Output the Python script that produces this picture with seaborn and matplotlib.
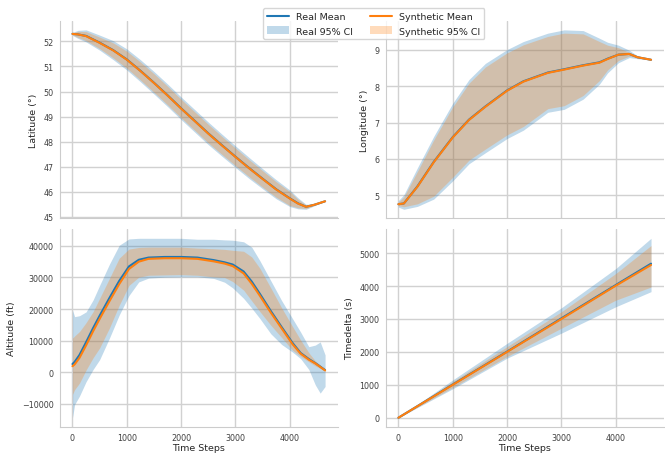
import matplotlib
matplotlib.use("Agg")
import matplotlib.pyplot as plt
from matplotlib.ticker import MultipleLocator
import seaborn as sns

# ---- latitude ----
lat_t = [0, 100, 250, 500, 750, 1000, 1250, 1500, 1750, 2000, 2250, 2500,
         2750, 3000, 3250, 3500, 3750, 4000, 4150, 4300, 4450, 4650]
lat_real_mean = [52.30, 52.28, 52.22, 51.95, 51.65, 51.28, 50.83, 50.35, 49.85, 49.33, 48.83,
                 48.33, 47.86, 47.40, 46.95, 46.52, 46.10, 45.74, 45.54, 45.40, 45.48, 45.62]
lat_real_lo = [52.24, 52.12, 51.98, 51.65, 51.27, 50.86, 50.39, 49.90, 49.40, 48.88, 48.38,
               47.88, 47.42, 46.97, 46.53, 46.12, 45.72, 45.41, 45.32, 45.30, 45.44, 45.62]
lat_real_hi = [52.36, 52.44, 52.46, 52.25, 52.03, 51.70, 51.27, 50.80, 50.30, 49.78, 49.28,
               48.78, 48.30, 47.83, 47.37, 46.92, 46.48, 46.07, 45.76, 45.50, 45.52, 45.62]
lat_syn_mean = [52.30, 52.28, 52.21, 51.94, 51.64, 51.27, 50.82, 50.34, 49.84, 49.32, 48.82,
                48.32, 47.85, 47.39, 46.94, 46.51, 46.09, 45.73, 45.53, 45.40, 45.48, 45.62]
lat_syn_lo = [52.26, 52.16, 52.03, 51.71, 51.34, 50.93, 50.46, 49.97, 49.47, 48.95, 48.45,
              47.95, 47.49, 47.04, 46.60, 46.18, 45.78, 45.45, 45.36, 45.33, 45.45, 45.62]
lat_syn_hi = [52.34, 52.40, 52.39, 52.17, 51.94, 51.61, 51.18, 50.71, 50.21, 49.69, 49.19,
              48.69, 48.21, 47.74, 47.28, 46.84, 46.40, 46.01, 45.70, 45.47, 45.51, 45.62]

# ---- longitude ----
lon_t = [0, 100, 350, 650, 1000, 1300, 1600, 2000, 2300, 2750, 3050, 3400,
         3700, 3850, 4050, 4250, 4400, 4650]
lon_real_mean = [4.76, 4.78, 5.25, 5.92, 6.60, 7.08, 7.44, 7.88, 8.13, 8.37, 8.46, 8.57,
                 8.65, 8.75, 8.86, 8.88, 8.79, 8.72]
lon_real_lo = [4.68, 4.62, 4.70, 4.90, 5.40, 5.87, 6.17, 6.56, 6.79, 7.28, 7.36, 7.64,
               8.05, 8.36, 8.64, 8.78, 8.75, 8.71]
lon_real_hi = [4.86, 5.02, 5.76, 6.62, 7.53, 8.18, 8.62, 9.00, 9.22, 9.45, 9.54, 9.52,
               9.31, 9.20, 9.12, 8.98, 8.83, 8.73]
lon_syn_mean = [4.76, 4.78, 5.24, 5.91, 6.59, 7.07, 7.43, 7.87, 8.12, 8.36, 8.45, 8.56,
                8.64, 8.74, 8.86, 8.88, 8.79, 8.72]
lon_syn_lo = [4.72, 4.69, 4.77, 4.98, 5.50, 5.97, 6.27, 6.66, 6.89, 7.38, 7.46, 7.74,
              8.15, 8.44, 8.70, 8.82, 8.77, 8.72]
lon_syn_hi = [4.82, 4.96, 5.66, 6.52, 7.43, 8.08, 8.52, 8.91, 9.13, 9.36, 9.45, 9.43,
              9.22, 9.12, 9.05, 8.92, 8.80, 8.72]

# ---- altitude ----
alt_t = [0, 40, 130, 250, 380, 500, 680, 860, 1040, 1220, 1400, 1700, 2000, 2300,
         2600, 2800, 2950, 3150, 3300, 3450, 3650, 3850, 4050, 4200, 4350, 4470, 4560, 4650]
alt_real_mean = [2600, 3300, 5500, 9500, 14000, 17900, 23500, 28900, 33500, 35600, 36300,
                 36500, 36500, 36300, 35500, 34800, 34100, 31900, 28700, 24800, 19400,
                 14300, 9300, 6100, 4200, 2900, 1800, 700]
alt_real_lo = [-14400, -10200, -7500, -3000, 900, 4000, 10800, 18100, 24300, 28600, 29800,
               30100, 30200, 30200, 29700, 28500, 26700, 23400, 20300, 17000, 12200,
               8800, 6400, 4300, 900, -4000, -6600, -4500]
alt_real_hi = [19700, 17600, 17900, 19100, 22900, 27500, 34200, 40200, 42200, 42400, 42400,
               42400, 42400, 42100, 42100, 41900, 41800, 41300, 39600, 35300, 29000,
               22700, 17000, 12700, 8100, 8600, 9600, 5500]
alt_syn_mean = [1900, 2500, 4600, 8500, 13000, 16900, 22500, 27900, 32700, 35000, 35900,
                36100, 36100, 35900, 35100, 34400, 33600, 31300, 28000, 24200, 18900,
                13900, 8900, 5900, 4000, 2800, 1700, 600]
alt_syn_lo = [-7000, -5500, -3400, 700, 4600, 7700, 14000, 21200, 27500, 30100, 30700,
              30800, 30900, 30700, 30200, 30000, 28700, 26000, 22600, 19200, 14900,
              11000, 7000, 5000, 3300, 2000, 1200, 200]
alt_syn_hi = [10800, 11500, 12900, 15700, 19200, 23400, 29700, 36100, 39000, 39500, 39600,
              39600, 39600, 39300, 39100, 38900, 38600, 38300, 36500, 32900, 26700,
              20400, 14500, 10200, 6200, 3600, 2300, 800]

# ---- timedelta ----
td_t = [0, 1000, 2000, 3000, 4000, 4650]
td_real_mean = [0, 1010, 2010, 3020, 4030, 4680]
td_real_lo = [0, 880, 1810, 2570, 3370, 3830]
td_real_hi = [0, 1150, 2260, 3340, 4530, 5450]
td_syn_mean = [0, 1000, 2000, 3000, 4010, 4640]
td_syn_lo = [0, 920, 1860, 2720, 3570, 3970]
td_syn_hi = [0, 1100, 2160, 3220, 4380, 5230]

panels = [
    ("Latitude (°)", lat_t, lat_real_mean, lat_real_lo, lat_real_hi,
     lat_syn_mean, lat_syn_lo, lat_syn_hi, 1),
    ("Longitude (°)", lon_t, lon_real_mean, lon_real_lo, lon_real_hi,
     lon_syn_mean, lon_syn_lo, lon_syn_hi, 1),
    ("Altitude (ft)", alt_t, alt_real_mean, alt_real_lo, alt_real_hi,
     alt_syn_mean, alt_syn_lo, alt_syn_hi, 10000),
    ("Timedelta (s)", td_t, td_real_mean, td_real_lo, td_real_hi,
     td_syn_mean, td_syn_lo, td_syn_hi, 1000),
]

sns.set_theme(style="whitegrid")
plt.rcParams.update({
    "axes.edgecolor": ".8",
    "axes.linewidth": 0.8,
    "grid.color": ".82",
    "grid.linewidth": 1.0,
    "xtick.labelsize": 5.8,
    "ytick.labelsize": 5.8,
    "axes.labelsize": 6.8,
    "xtick.color": ".25",
    "ytick.color": ".25",
    "axes.labelcolor": ".15",
    "xtick.major.size": 0,
    "ytick.major.size": 0,
    "xtick.major.pad": 4.5,
    "ytick.major.pad": 4.5,
})

real_c = "#1f77b4"
syn_c = "#ff7f0e"

fig, axes = plt.subplots(2, 2, figsize=(6.65, 4.56), dpi=100, sharex="col")
fig.subplots_adjust(left=0.090, right=0.998, top=0.952, bottom=0.062,
                    wspace=0.173, hspace=0.056)

for ax, (ylabel, t, rm, rlo, rhi, sm, slo, shi, step) in zip(axes.flat, panels):
    ax.fill_between(t, rlo, rhi, color=real_c, alpha=0.28, linewidth=0,
                    label="Real 95% CI")
    ax.fill_between(t, slo, shi, color=syn_c, alpha=0.28, linewidth=0,
                    label="Synthetic 95% CI")
    sns.lineplot(x=t, y=rm, color=real_c, linewidth=1.5, label="Real Mean", ax=ax)
    sns.lineplot(x=t, y=sm, color=syn_c, linewidth=1.5, label="Synthetic Mean", ax=ax)
    ax.set_ylabel(ylabel, labelpad=4)
    ax.yaxis.set_major_locator(MultipleLocator(step))
    ax.xaxis.set_major_locator(MultipleLocator(1000))
    ax.get_legend().remove()
    sns.despine(ax=ax)

for ax in axes[1]:
    ax.set_xlabel("Time Steps", labelpad=1)

handles, labels = axes[0, 0].get_legend_handles_labels()
order = ["Real Mean", "Real 95% CI", "Synthetic Mean", "Synthetic 95% CI"]
hmap = dict(zip(labels, handles))
fig.legend([hmap[k] for k in order], order, loc="upper center", ncol=2,
           bbox_to_anchor=(0.562, 0.99), fontsize=6.8, frameon=True,
           columnspacing=1.8, handlelength=2.3, handleheight=0.9,
           borderpad=0.4, labelspacing=0.55)

fig.savefig("out.png", dpi=100)
